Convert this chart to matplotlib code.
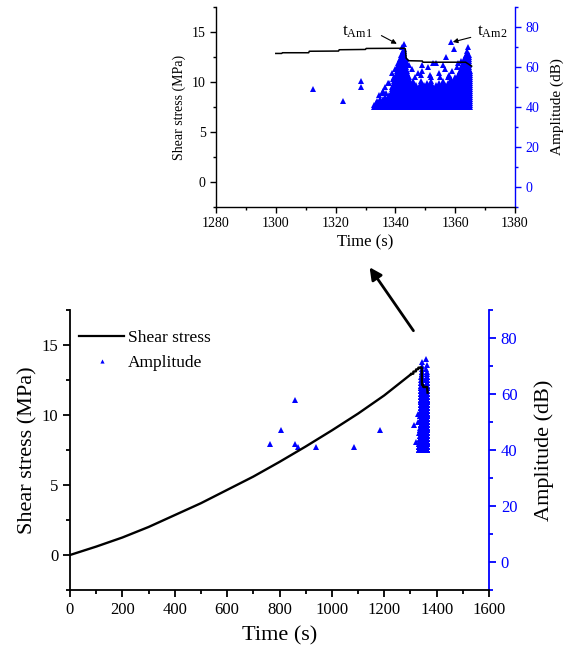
import numpy as np
import matplotlib
matplotlib.use("Agg")
import matplotlib.pyplot as plt
from matplotlib.lines import Line2D
from matplotlib.ticker import MultipleLocator

plt.rcParams['font.family'] = ['Liberation Serif', 'DejaVu Serif']
plt.rcParams['mathtext.fontset'] = 'custom'
plt.rcParams['mathtext.rm'] = 'Liberation Serif'
plt.rcParams['mathtext.it'] = 'Liberation Serif:italic'

# ---------------- data ----------------
# shear stress (MPa) vs time (s)
stress_time = [0, 100, 200, 300, 400, 500, 600, 700, 800, 900, 1000, 1100, 1200,
               1300, 1302, 1302.2, 1311, 1311.2, 1321, 1321.2, 1330, 1330.2, 1343,
               1343.3, 1343.6, 1344.5, 1349, 1349.2, 1363.5, 1364.5, 1365.5]
stress_value = [0.0, 0.6, 1.25, 2.0, 2.85, 3.7, 4.65, 5.6, 6.65, 7.75, 8.9, 10.1, 11.4,
                12.88, 12.88, 12.95, 12.95, 13.1, 13.12, 13.25, 13.28, 13.38, 13.4,
                13.35, 12.4, 12.15, 12.12, 12.0, 12.0, 11.8, 11.6]
inset_start = 1300  # the zoomed view shows the record from 1300 s on

# isolated acoustic emission hits (time s, amplitude dB)
iso_time = [764, 804, 859, 859, 869, 939, 1084, 1184, 1312.3, 1322.6, 1328.5, 1328.5]
iso_amp = [42, 47, 58, 42, 41, 41, 41, 47, 49, 43, 53, 50]

# dense burst: for each time column, hits cover every dB from 40 up to the column top
burst_time = [1333.0 + 0.5 * i for i in range(65)]
burst_top = [41, 42, 43, 42, 44, 43, 44, 45, 44, 43, 46, 45, 50, 55, 53, 58, 62, 64, 66, 68,
             69, 64, 58, 55, 52, 50, 53, 49, 51, 48, 50, 53, 49, 51, 48, 52, 50, 47, 53, 50,
             48, 51, 49, 52, 50, 48, 53, 51, 49, 52, 50, 54, 51, 53, 55, 52, 56, 58, 60, 62,
             64, 66, 68, 66, 58]

# scattered hits above the dense burst
upper_time = [1343.0, 1342.3, 1358.5, 1359.5, 1364.3, 1357.0, 1352.5, 1353.5, 1350.8, 1355.8,
              1362.0, 1345.5, 1347.5, 1349.0, 1351.5, 1354.5, 1356.5, 1358.0, 1360.5, 1346.5,
              1348.5, 1352.0, 1355.0, 1357.5, 1359.0, 1361.0, 1344.5, 1340.0, 1338.8, 1337.5,
              1336.0, 1335.5, 1334.5, 1348.9, 1336.5, 1338.0, 1337.0, 1339.2]
upper_amp = [71.5, 70, 72.4, 69, 70.3, 65, 62, 62, 60, 61,
             63, 59, 57, 58, 56, 57, 59, 56, 60, 55,
             56, 55, 55, 55, 58, 62, 61, 59, 57, 52,
             48, 47, 46, 61, 50, 52, 47, 54]

# expand the dense burst into individual hits
amp_t, amp_a = list(iso_time), list(iso_amp)
for t, top in zip(burst_time, burst_top):
    for a in range(40, top + 1):
        amp_t.append(t)
        amp_a.append(a)
amp_t += upper_time
amp_a += upper_amp

BLUE = '#0000ff'
W, H = 566, 655
fig = plt.figure(figsize=(W / 100, H / 100), dpi=100)


def style(ax, ax2, xmaj, xmin, fs_tick, lw_sp, ticklen):
    ax.spines['top'].set_visible(False)
    ax.spines['right'].set_visible(False)
    for s in ['left', 'bottom']:
        ax.spines[s].set_linewidth(lw_sp)
    ax2.spines['top'].set_visible(False)
    ax2.spines['left'].set_visible(False)
    ax2.spines['bottom'].set_visible(False)
    ax2.spines['right'].set_color(BLUE)
    ax2.spines['right'].set_linewidth(lw_sp)
    ax.xaxis.set_major_locator(MultipleLocator(xmaj))
    ax.xaxis.set_minor_locator(MultipleLocator(xmin))
    ax.yaxis.set_major_locator(MultipleLocator(5))
    ax.yaxis.set_minor_locator(MultipleLocator(2.5))
    ax2.yaxis.set_major_locator(MultipleLocator(20))
    ax2.yaxis.set_minor_locator(MultipleLocator(10))
    ax.tick_params(which='major', direction='out', length=ticklen, width=lw_sp, labelsize=fs_tick)
    ax.tick_params(which='minor', direction='out', length=ticklen * 0.6, width=lw_sp)
    ax.tick_params(axis='y', which='both', right=False)
    ax.tick_params(axis='x', which='both', top=False)
    ax2.tick_params(which='major', direction='out', length=ticklen, width=lw_sp,
                    labelsize=fs_tick, colors=BLUE, labelcolor=BLUE)
    ax2.tick_params(which='minor', direction='out', length=ticklen * 0.6, width=lw_sp, colors=BLUE)
    ax.set_ylim(-2.5, 17.5)
    ax2.set_ylim(-10, 90)
    ax.set_zorder(ax2.get_zorder() + 1)
    ax.patch.set_visible(False)


# ---------------- main axes ----------------
ax = fig.add_axes([70 / W, 1 - 590 / H, 419 / W, 280 / H])
ax2 = ax.twinx()
ax2.plot(amp_t, amp_a, linestyle='none', marker='^', ms=4.5, color=BLUE, mec=BLUE, mew=0)
ax.plot(stress_time, stress_value, color='black', lw=1.7)
ax.set_xlim(0, 1600)
style(ax, ax2, 200, 100, 12, 1.3, 5)
ax.set_xlabel('Time (s)', fontsize=16, labelpad=6)
ax.set_ylabel('Shear stress (MPa)', fontsize=16, labelpad=3)
ax2.set_ylabel('Amplitude (dB)', fontsize=16, labelpad=12)

handles = [Line2D([], [], color='black', lw=1.6),
           Line2D([], [], linestyle='none', marker='^', ms=3, color=BLUE, mew=0)]
ax.legend(handles, ['Shear stress', 'Amplitude'], loc='upper left',
          bbox_to_anchor=(0.022, 0.93), frameon=False, fontsize=12.5,
          handlelength=2.6, handletextpad=0.2, labelspacing=0.55,
          borderpad=0, borderaxespad=0)

# ---------------- inset axes ----------------
bx = fig.add_axes([216 / W, 1 - 206.7 / H, 299 / W, 199.3 / H])
bx2 = bx.twinx()
bx2.plot(amp_t, amp_a, linestyle='none', marker='^', ms=4, color=BLUE, mec=BLUE, mew=0)
sel = [i for i, t in enumerate(stress_time) if t >= inset_start]
bx.plot([stress_time[i] for i in sel], [stress_value[i] for i in sel], color='black', lw=1.1)
bx.set_xlim(1280, 1380)
style(bx, bx2, 20, 10, 10, 1.0, 4)
bx.set_xlabel('Time (s)', fontsize=12, labelpad=3)
bx.set_ylabel('Shear stress (MPa)', fontsize=10, labelpad=4)
bx2.set_ylabel('Amplitude (dB)', fontsize=11, labelpad=8)

bx.text(0.42, 0.861, r't$_{\mathrm{Am1}}$', transform=bx.transAxes, fontsize=12.5,
        ha='left', va='baseline')
bx.text(0.872, 0.861, r't$_{\mathrm{Am2}}$', transform=bx.transAxes, fontsize=12.5,
        ha='left', va='baseline')
bx.annotate('', xy=(0.613, 0.811), xytext=(0.545, 0.865), xycoords='axes fraction',
            textcoords='axes fraction',
            arrowprops=dict(arrowstyle='-|>', color='black', lw=0.8, mutation_scale=7))
bx.annotate('', xy=(0.783, 0.823), xytext=(0.861, 0.853), xycoords='axes fraction',
            textcoords='axes fraction',
            arrowprops=dict(arrowstyle='-|>', color='black', lw=0.8, mutation_scale=7))

# big arrow from main plot to inset
fig.add_artist(matplotlib.patches.FancyArrowPatch(
    posA=(415 / W, 1 - 333 / H), posB=(368 / W, 1 - 265 / H),
    transform=fig.transFigure, arrowstyle='-|>', mutation_scale=18,
    color='black', lw=2.0))

fig.savefig('out.png', dpi=100)
